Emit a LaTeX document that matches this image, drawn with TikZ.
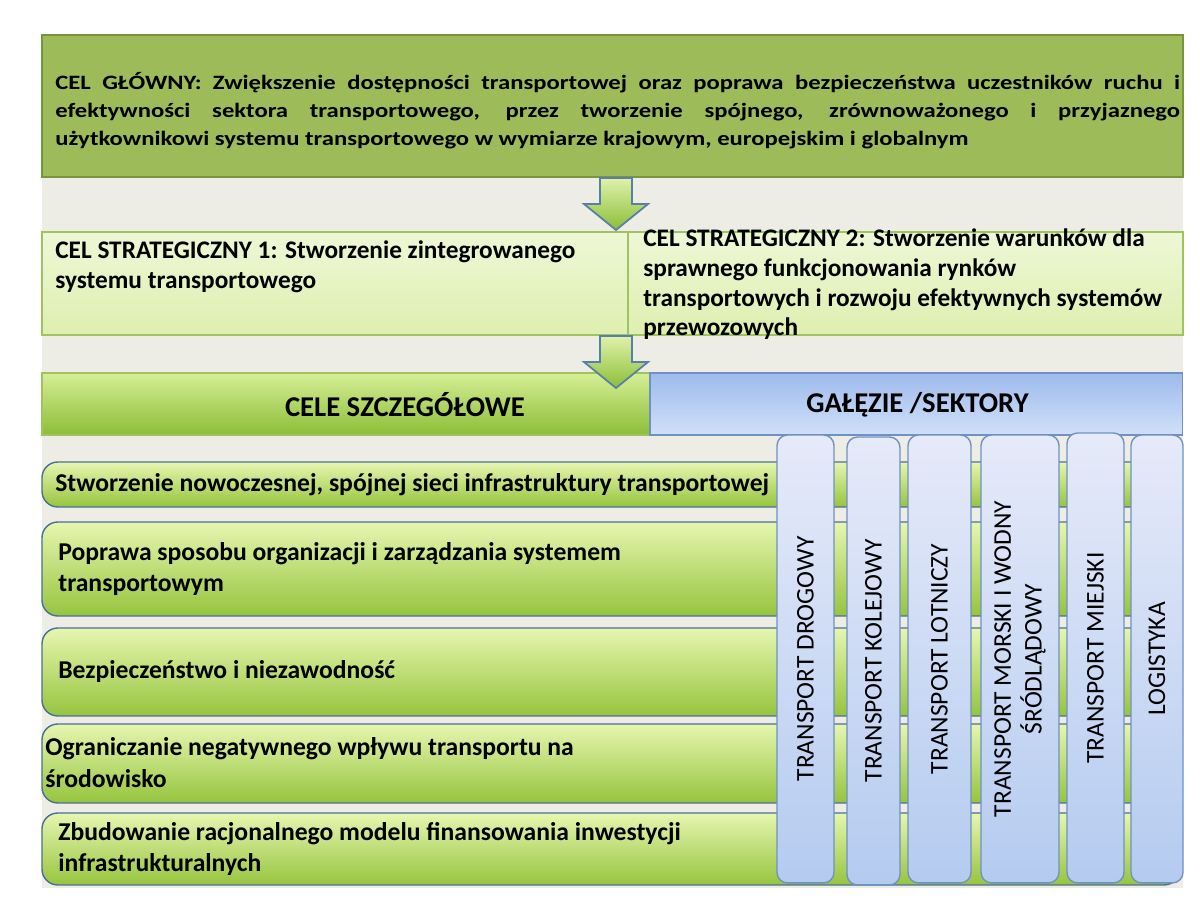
\documentclass[tikz,border=0pt]{standalone}
\usepackage{fontspec}
\setmainfont{Carlito}
\newfontfamily\widefont[FakeStretch=1.21]{Carlito}
\usepackage{xcolor}
\usepackage{tikz}
\usetikzlibrary{positioning,calc}

\definecolor{panelgray}{RGB}{237,237,230}
\definecolor{olivemain}{RGB}{157,187,89}
\definecolor{olivedark}{RGB}{120,148,62}
\definecolor{paletop}{RGB}{238,247,214}
\definecolor{palebot}{RGB}{222,239,175}
\definecolor{paleline}{RGB}{160,195,95}
\definecolor{greentop}{RGB}{214,238,150}
\definecolor{greenbot}{RGB}{140,190,55}
\definecolor{bartop}{RGB}{230,246,176}
\definecolor{barbot}{RGB}{150,196,62}
\definecolor{barline}{RGB}{75,110,150}
\definecolor{secttop}{RGB}{230,234,249}
\definecolor{sectbot}{RGB}{180,203,240}
\definecolor{sectline}{RGB}{112,145,195}
\definecolor{bluetop}{RGB}{158,187,236}
\definecolor{bluebot}{RGB}{208,224,249}
\definecolor{arrline}{RGB}{88,126,170}

\newcommand{\greenarrow}[1]{%
  \draw [downarrow] (#1) ++(-16,0) -- ++(32,0) -- ++(0,26) -- ++(16,0)
    -- ++(-32,26) -- ++(-32,-26) -- ++(16,0) -- cycle;}

\tikzset{
  box/.style={anchor=north west, inner sep=0pt, outer sep=0pt},
  mainbox/.style={box, fill=olivemain, draw=olivedark, line width=1.2pt},
  stratbox/.style={box, top color=paletop, bottom color=palebot, draw=paleline, line width=0.8pt},
  headgreen/.style={box, top color=greentop, bottom color=greenbot, draw=paleline, line width=0.6pt},
  headblue/.style={box, top color=bluetop, bottom color=bluebot, draw=sectline, line width=0.6pt},
  goalbar/.style={box, rounded corners=9pt, top color=bartop, bottom color=barbot, draw=barline, line width=0.8pt},
  sectbox/.style={box, rounded corners=6pt, top color=secttop, bottom color=sectbot, draw=sectline, line width=0.8pt},
  downarrow/.style={top color=greentop!80!white, bottom color=greenbot, draw=arrline, line width=1pt},
  strattxt/.style={inner sep=0pt, anchor=west, align=left, font=\bfseries\fontsize{14.4}{16.9}\selectfont},
  txt/.style={inner sep=0pt, anchor=west, align=left, font=\bfseries\fontsize{14.6}{18}\selectfont},
  headtxt/.style={inner sep=0pt, font=\bfseries\fontsize{16.3}{18}\selectfont},
  secttxt/.style={inner sep=0pt, rotate=90, align=center, font=\fontsize{14.5}{17.6}\selectfont}
}

\begin{document}
\begin{tikzpicture}[x=0.02cm, y=-0.02cm]
    \fill [white] (0,0) rectangle (1200,906);
    \useasboundingbox (0,0) rectangle (1200,906);
    \fill [panelgray] (42,35) rectangle (1183,888); % background panel

    % main goal
    \node (main) [mainbox, minimum width=22.82cm, minimum height=2.84cm] at (42,35) {};
    \node (maintxt) [inner sep=0pt, anchor=west, font=\widefont\bfseries\fontsize{11.6}{15.9}\selectfont, align=left]
      at ($(main.west)+(13,5)$) {%
      \makebox[22.5cm][s]{CEL GŁÓWNY: Zwiększenie dostępności transportowej oraz poprawa bezpieczeństwa uczestników ruchu i}\\
      \makebox[22.5cm][s]{efektywności sektora transportowego, przez tworzenie spójnego, zrównoważonego i przyjaznego}\\
      użytkownikowi systemu transportowego w wymiarze krajowym, europejskim i globalnym};

    % strategic goals
    \node (s1) [stratbox, minimum width=11.72cm, minimum height=2.06cm] at (42,232) {};
    \node (s2) [stratbox, minimum width=11.1cm, minimum height=2.06cm] at (628,232) {};
    \node (s1txt) [strattxt] at ($(s1.west)+(13,-17)$)
      {CEL STRATEGICZNY 1: Stworzenie zintegrowanego\\systemu transportowego};
    \node (s2txt) [strattxt] at ($(s2.west)+(15,1)$)
      {CEL STRATEGICZNY 2: Stworzenie warunków dla\\sprawnego funkcjonowania rynków\\
       transportowych i rozwoju efektywnych systemów\\przewozowych};

    % headers
    \node (cele) [headgreen, minimum width=12.16cm, minimum height=1.24cm] at (42,373) {};
    \node (galezie) [headblue, minimum width=10.66cm, minimum height=1.24cm] at (650,373) {};
    \node (celetxt) [headtxt] at ($(cele.center)+(59,1)$) {CELE SZCZEGÓŁOWE};
    \node (galezietxt) [headtxt] at ($(galezie.center)+(1,1)$) {GAŁĘZIE /SEKTORY};

    % arrows
    \coordinate (a1) at (616,178);
    \coordinate (a2) at (616,336);
    \greenarrow{a1}
    \greenarrow{a2}

    % detailed goals
    \node (g1) [goalbar, minimum width=22.76cm, minimum height=0.9cm]  at (42,462) {};
    \node (g2) [goalbar, minimum width=22.76cm, minimum height=1.88cm] at (42,522) {};
    \node (g3) [goalbar, minimum width=22.76cm, minimum height=1.76cm] at (42,628) {};
    \node (g4) [goalbar, minimum width=22.76cm, minimum height=1.58cm] at (42,724) {};
    \node (g5) [goalbar, minimum width=22.76cm, minimum height=1.44cm] at (42,813) {};
    \node (g1txt) [txt] at ($(g1.west)+(13,0)$)
      {Stworzenie nowoczesnej, spójnej sieci infrastruktury transportowej};
    \node (g2txt) [txt] at ($(g2.west)+(16,0)$)
      {Poprawa sposobu organizacji i zarządzania systemem\\transportowym};
    \node (g3txt) [txt] at ($(g3.west)+(16,0)$)
      {Bezpieczeństwo i niezawodność};
    \node (g4txt) [txt] at ($(g4.west)+(3,-1)$)
      {Ograniczanie negatywnego wpływu transportu na\\środowisko};
    \node (g5txt) [txt] at ($(g5.west)+(16,0)$)
      {Zbudowanie racjonalnego modelu finansowania inwestycji\\infrastrukturalnych};

    % sectors
    \node (c1) [sectbox, minimum width=1.14cm, minimum height=8.96cm] at (777,435) {};
    \node (c2) [sectbox, minimum width=1.06cm, minimum height=8.96cm] at (847,437) {};
    \node (c3) [sectbox, minimum width=1.26cm, minimum height=8.96cm] at (908,435) {};
    \node (c4) [sectbox, minimum width=1.56cm, minimum height=8.96cm] at (981,435) {};
    \node (c5) [sectbox, minimum width=1.14cm, minimum height=9.0cm]  at (1067,433) {};
    \node (c6) [sectbox, minimum width=1.04cm, minimum height=8.96cm] at (1131,435) {};
    \node (c1txt) [secttxt] at (c1.center) {TRANSPORT DROGOWY};
    \node (c2txt) [secttxt] at (c2.center) {TRANSPORT KOLEJOWY};
    \node (c3txt) [secttxt] at (c3.center) {TRANSPORT LOTNICZY};
    \node (c4txt) [secttxt] at (c4.center) {TRANSPORT MORSKI I WODNY\\ŚRÓDLĄDOWY};
    \node (c5txt) [secttxt] at (c5.center) {TRANSPORT MIEJSKI};
    \node (c6txt) [secttxt] at (c6.center) {LOGISTYKA};
\end{tikzpicture}
\end{document}
